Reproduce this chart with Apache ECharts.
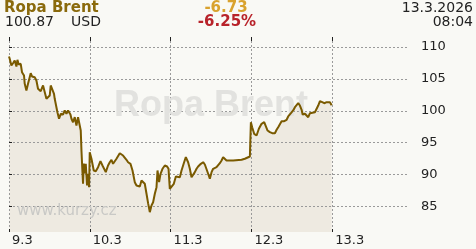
<!DOCTYPE html>
<html>
<head>
<meta charset="utf-8">
<script src="https://cdn.jsdelivr.net/npm/echarts@6/dist/echarts.min.js"></script>
<style>
html,body{margin:0;padding:0;background:#f9f9f5;}
#chart{width:476px;height:249px;}
</style>
</head>
<body>
<div id="chart"></div>
<script>
// hours since 9.3. 00:00
var hours = [0,0.21,0.71,1.19,1.69,2.20,2.50,2.88,3.48,3.86,4.46,4.67,5.17,5.65,6.45,6.84,7.64,8.14,8.62,9.42,
10.11,10.61,11.12,11.59,12.10,12.39,12.90,13.37,13.58,14.09,14.38,14.86,15.37,16.05,16.55,17.06,17.54,18.25,18.55,19.02,
19.53,20.03,20.51,21.01,21.31,21.52,21.82,21.99,22.20,22.50,22.80,23.18,23.48,23.78,23.98,24.49,25.17,25.77,26.45,27.16,
27.76,28.23,28.74,29.42,29.93,30.43,30.91,31.41,31.92,32.40,32.90,33.41,33.88,34.89,35.37,36.08,36.68,37.36,37.87,38.34,
38.85,39.35,39.83,40.33,40.84,41.31,41.82,42.32,42.80,43.31,43.81,44.11,44.58,45.00,45.59,46.28,46.96,47.38,47.76,48.27,
48.95,49.55,50.14,50.74,51.24,52.01,52.52,53.20,53.71,54.21,54.69,55.19,55.70,56.17,56.98,57.66,58.17,58.67,59.15,59.65,
60.16,60.63,61.64,62.12,62.62,63.13,63.60,64.11,64.61,65.09,65.60,66.10,66.58,67.08,69.07,70.05,70.56,71.54,71.84,72.22,
72.82,73.53,74.21,75.01,75.79,76.29,76.80,77.48,78.17,78.97,79.48,79.95,80.46,80.96,81.73,82.45,82.92,83.73,84.41,84.92,
85.42,85.90,86.40,86.91,87.21,87.89,88.40,88.87,89.38,89.88,90.86,91.37,91.84,92.35,93.03,93.63,94.34,94.82,95.32,95.83];
var prices = [108.51,108.15,107.10,107.46,107.88,106.94,107.99,107.26,107.37,106.05,105.53,104.23,103.18,104.23,105.89,105.38,105.27,104.75,103.45,103.07,
103.97,103.70,101.88,102.13,102.40,103.97,104.23,102.66,101.88,101.61,99.78,98.75,99.53,99.42,100.05,99.53,100.05,99.42,98.75,98.21,
99.00,97.70,99.00,99.26,96.91,93.78,90.38,88.56,91.74,90.17,91.69,88.29,90.13,88.03,93.51,92.48,90.64,90.53,91.16,92.10,
91.43,91.69,90.38,91.43,91.94,92.32,91.69,91.43,92.48,92.73,93.35,93.51,92.99,92.32,91.94,91.69,90.64,88.81,88.29,88.56,
88.13,89.08,89.18,88.56,86.99,85.52,84.11,85.16,85.67,86.99,88.03,90.64,88.81,90.13,90.91,91.43,91.27,90.91,87.77,88.03,
88.56,89.70,89.86,89.59,90.64,91.94,92.73,91.94,90.91,89.59,89.50,90.38,90.91,91.27,91.69,91.94,91.58,91.58,90.13,89.34,
90.38,90.91,91.16,91.27,91.79,92.21,92.73,92.99,92.21,91.94,92.21,92.48,92.21,92.32,92.32,92.48,92.73,92.84,98.21,97.43,
96.39,96.13,97.18,97.96,98.21,97.96,96.91,96.65,96.49,96.49,97.02,97.43,97.70,98.37,98.37,98.59,99.11,99.62,100.05,100.56,
100.83,101.19,100.83,100.16,99.42,99.53,99.62,99.00,99.62,99.78,99.78,100.05,100.83,101.50,101.35,101.19,101.35,101.19,101.35,100.87];
var dayTicks = [0, 24, 48, 72, 96];
var dayLabels = ['9.3', '10.3', '11.3', '12.3', '13.3'];
var priceTicks = [85, 90, 95, 100, 105, 110];
var priceLabels = ['85', '90', '95', '100', '105', '110'];
var title = 'Ropa Brent';
var lastPrice = '100.87';
var currency = 'USD';
var change = '-6.73';
var changePct = '-6.25%';
var dateText = '13.3.2026';
var timeText = '08:04';
var watermark = 'www.kurzy.cz';

var pts = hours.map(function (h, i) { return [h, prices[i]]; });
var FONT = "'DejaVu Sans', Verdana, sans-serif";
var tickColor = '#222';
var gridStyle = { color: '#9a9a9a', type: [2, 2], width: 1 };

var chart = echarts.init(document.getElementById('chart'), null, { renderer: 'canvas' });
chart.setOption({
  animation: false,
  backgroundColor: '#f9f9f5',
  grid: { left: 9, right: 67, top: 37, bottom: 17, containLabel: false },
  xAxis: [{
    type: 'value', position: 'bottom', min: 0, max: 118.8, z: 2,
    axisLine: { show: false },
    axisTick: { show: true, inside: true, length: 3, customValues: dayTicks, lineStyle: { color: tickColor } },
    axisLabel: {
      customValues: dayTicks, margin: 2, align: 'left', padding: [0, 0, 0, 3],
      color: tickColor, fontSize: 13, fontFamily: FONT,
      formatter: function (v) { var i = dayTicks.indexOf(v); return i < 0 ? '' : dayLabels[i]; }
    },
    splitLine: { show: true, lineStyle: gridStyle }
  }, {
    type: 'value', position: 'top', min: 0, max: 118.8, z: 2,
    axisLine: { show: false },
    axisTick: { show: true, inside: true, length: 4, customValues: dayTicks, lineStyle: { color: tickColor } },
    axisLabel: { show: false },
    splitLine: { show: false }
  }],
  yAxis: [{
    type: 'value', position: 'right', offset: 5, min: 81.0, max: 111.57, z: 2,
    axisLine: { show: false },
    axisTick: { show: true, length: 3, customValues: priceTicks, lineStyle: { color: tickColor } },
    axisLabel: {
      customValues: priceTicks, margin: 7, color: tickColor, fontSize: 13, fontFamily: FONT,
      formatter: function (v) { var i = priceTicks.indexOf(v); return i < 0 ? '' : priceLabels[i]; }
    },
    splitLine: { show: true, lineStyle: gridStyle }
  }, {
    type: 'value', position: 'left', min: 81.0, max: 111.57, z: 2,
    axisLine: { show: false },
    axisTick: { show: true, inside: true, length: 3, customValues: priceTicks, lineStyle: { color: tickColor } },
    axisLabel: { show: false },
    splitLine: { show: false }
  }],
  series: [{
    type: 'line', data: pts, showSymbol: false, z: 1, silent: true,
    lineStyle: { width: 0 },
    areaStyle: { color: '#eeeae1', opacity: 1, origin: 'start' }
  }, {
    type: 'line', data: pts, showSymbol: false, z: 4, silent: true,
    lineStyle: { width: 2, color: '#7a5a00' }
  }],
  graphic: [
    { type: 'text', z: 3, x: 211, y: 106, style: { text: title, font: "bold 36px 'Liberation Sans', Arial, sans-serif", fill: '#e2e2df', align: 'center', verticalAlign: 'middle' } },
    { type: 'text', z: 3, x: 17, y: 211, style: { text: watermark, font: '15px ' + FONT, fill: '#c9c9c6', align: 'left', verticalAlign: 'middle' } },
    { type: 'text', z: 5, x: 4, y: 1, style: { text: title, font: 'bold 15px ' + FONT, fill: '#8a6a0c', align: 'left', verticalAlign: 'top' } },
    { type: 'text', z: 5, x: 5, y: 15, style: { text: lastPrice, font: '14px ' + FONT, fill: '#222', align: 'left', verticalAlign: 'top' } },
    { type: 'text', z: 5, x: 71, y: 15, style: { text: currency, font: '14px ' + FONT, fill: '#222', align: 'left', verticalAlign: 'top' } },
    { type: 'text', z: 5, x: 226, y: 1, style: { text: change, font: 'bold 15px ' + FONT, fill: '#d9a22e', align: 'center', verticalAlign: 'top' } },
    { type: 'text', z: 5, x: 227, y: 15, style: { text: changePct, font: 'bold 15px ' + FONT, fill: '#b8232a', align: 'center', verticalAlign: 'top' } },
    { type: 'text', z: 5, x: 473, y: 1, style: { text: dateText, font: '14px ' + FONT, fill: '#222', align: 'right', verticalAlign: 'top' } },
    { type: 'text', z: 5, x: 473, y: 15, style: { text: timeText, font: '14px ' + FONT, fill: '#222', align: 'right', verticalAlign: 'top' } }
  ]
});
</script>
</body>
</html>
